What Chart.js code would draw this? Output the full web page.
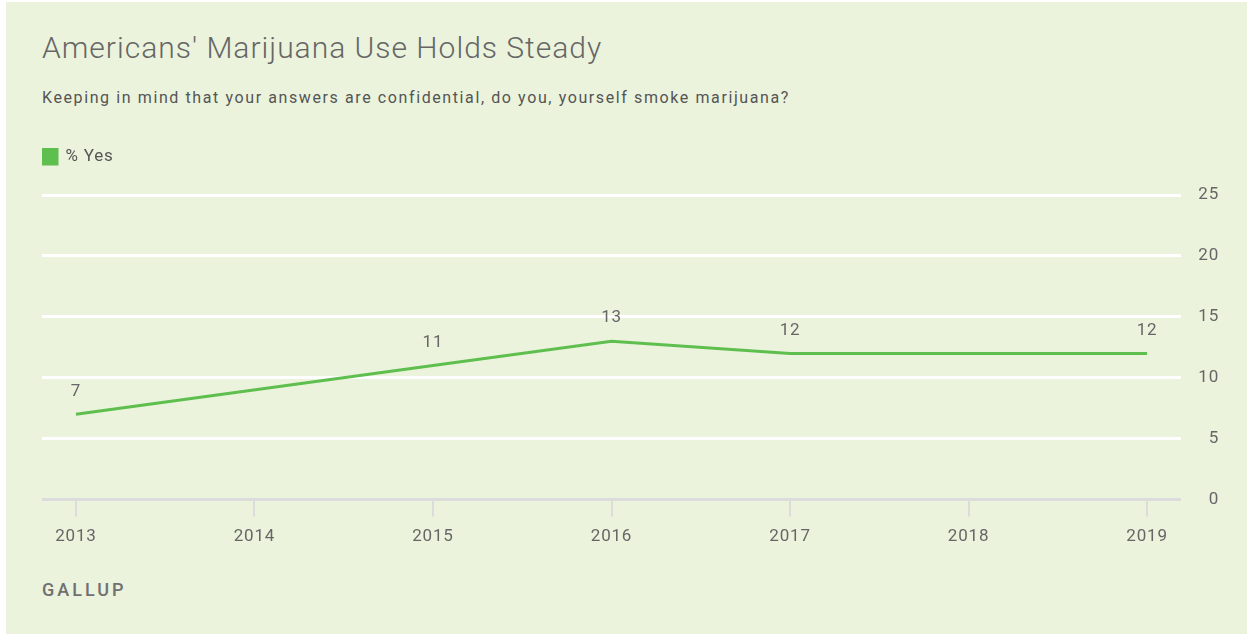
<!DOCTYPE html>
<html>
<head>
<meta charset="utf-8">
<script src="https://cdn.jsdelivr.net/npm/chart.js@4"></script>
<style>
  body { margin: 0; background: #ffffff; font-family: Roboto, "Liberation Sans", sans-serif; }
  #panel { position: absolute; left: 6px; top: 2px; width: 1241px; height: 632px; background: #ebf3dc; }
  #title { position: absolute; left: 42px; top: 30px; font-size: 30px; font-weight: 300; letter-spacing: 1px; color: #666666; white-space: nowrap; }
  #subtitle { position: absolute; left: 42px; top: 88px; font-size: 16px; letter-spacing: 1.6px; color: #555555; white-space: nowrap; }
  #source { position: absolute; left: 42px; top: 579px; font-size: 18px; color: #707070; letter-spacing: 3px; font-weight: 500; }
  #wrap { position: absolute; left: 0; top: 0; width: 1253px; height: 637px; }
</style>
</head>
<body>
<div id="panel"></div>
<div id="title">Americans' Marijuana Use Holds Steady</div>
<div id="subtitle">Keeping in mind that your answers are confidential, do you, yourself smoke marijuana?</div>
<div id="source">GALLUP</div>
<div id="wrap"><canvas id="chart" width="1253" height="637"></canvas></div>
<script>
// data
const years = [2013, 2015, 2016, 2017, 2019];
const yes = [7, 11, 13, 12, 12];
const xTicks = [2013, 2014, 2015, 2016, 2017, 2018, 2019];
const yTicks = [0, 5, 10, 15, 20, 25];

const textColor = '#666666';
const lineColor = '#5fbf4e';
const tickFont = { size: 17, family: 'Roboto' };

// loosen the canvas text a bit, the original font runs wider
const spacing = {
    id: 'spacing',
    beforeDraw(chart) {
        chart.ctx.letterSpacing = '0.8px';
    }
};

// push the plot area down below the legend
const legendGap = {
    id: 'legendGap',
    afterInit(chart) {
        const fit = chart.legend.fit;
        chart.legend.fit = function () {
            fit.call(this);
            this.height += 20;
        };
    }
};

// value labels above each point
const valueLabels = {
    id: 'valueLabels',
    afterDatasetsDraw(chart) {
        const ctx = chart.ctx;
        const meta = chart.getDatasetMeta(0);
        ctx.save();
        ctx.font = '17px Roboto, sans-serif';
        ctx.fillStyle = textColor;
        ctx.textAlign = 'center';
        ctx.textBaseline = 'middle';
        meta.data.forEach((pt, i) => {
            ctx.fillText(String(yes[i]), pt.x, pt.y - 23);
        });
        ctx.restore();
    }
};

const ctx = document.getElementById('chart').getContext('2d');

new Chart(ctx, {
    type: 'line',
    data: {
        datasets: [{
            label: '% Yes',
            data: years.map((y, i) => ({ x: y, y: yes[i] })),
            borderColor: lineColor,
            backgroundColor: lineColor,
            borderWidth: 3,
            pointRadius: 0,
            tension: 0
        }]
    },
    options: {
        responsive: false,
        animation: false,
        layout: {
            padding: { left: 42, right: 34, top: 148, bottom: 80 }
        },
        scales: {
            x: {
                type: 'linear',
                min: 2012.81,
                max: 2019.19,
                afterBuildTicks: (scale) => {
                    scale.ticks = xTicks.map(v => ({ value: v }));
                },
                ticks: {
                    color: textColor,
                    font: tickFont,
                    padding: 10,
                    callback: (v) => String(v)
                },
                grid: {
                    drawOnChartArea: false,
                    drawTicks: true,
                    tickLength: 17,
                    color: '#dcdcdc',
                    lineWidth: 2
                },
                border: { display: false }
            },
            y: {
                position: 'right',
                min: 0,
                max: 25,
                afterBuildTicks: (scale) => {
                    scale.ticks = yTicks.map(v => ({ value: v }));
                },
                afterFit: (scale) => {
                    scale.width = 38;
                },
                ticks: {
                    color: textColor,
                    font: tickFont,
                    crossAlign: 'far',
                    padding: 0
                },
                grid: {
                    drawTicks: false,
                    lineWidth: 3,
                    color: (c) => c.tick && c.tick.value === 0 ? '#dcdcdc' : '#ffffff'
                },
                border: { display: false }
            }
        },
        plugins: {
            legend: {
                display: true,
                position: 'top',
                align: 'start',
                labels: {
                    boxWidth: 15,
                    boxHeight: 15,
                    color: '#555555',
                    font: { size: 17, family: 'Roboto' },
                    padding: 0
                }
            },
            tooltip: { enabled: false }
        }
    },
    plugins: [spacing, legendGap, valueLabels]
});
</script>
</body>
</html>
